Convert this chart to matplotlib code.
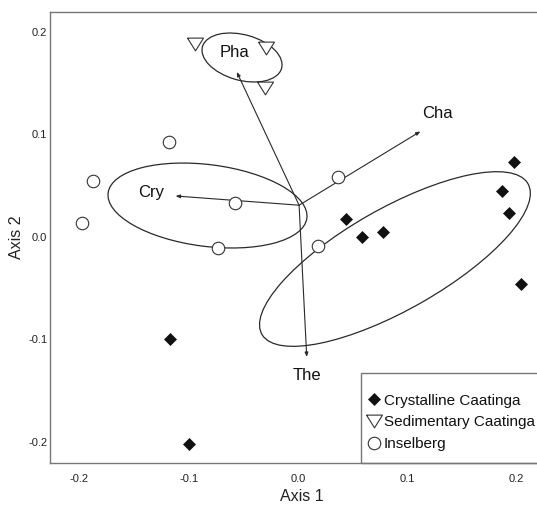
import matplotlib
matplotlib.use('Agg')
from matplotlib import pyplot as plt
from matplotlib.patches import Ellipse, Rectangle
from matplotlib.lines import Line2D

# site scores per habitat
cry_x=[-0.117,-0.100,0.044,0.059,0.078,0.198,0.187,0.193,0.204]
cry_y=[-0.100,-0.202,0.018,0.000,0.005,0.073,0.045,0.023,-0.046]
sed_x=[-0.094,-0.029,-0.030]
sed_y=[0.188,0.184,0.145]
ins_x=[-0.118,-0.188,-0.198,-0.058,-0.073,0.037,0.018]
ins_y=[0.093,0.055,0.014,0.033,-0.011,0.059,-0.009]

# fitted environmental vectors
vec_names=['Cha','Cry','Pha','The']
vec_x=[0.112,-0.112,-0.056,0.008]
vec_y=[0.103,0.040,0.161,-0.117]
vec_x0=0.001
vec_y0=0.031
lab_x=[0.128,-0.134,-0.058,0.008]
lab_y=[0.120,0.043,0.180,-0.135]

# group ellipses (crystalline, cry, pha)
ell_cx=[0.0887,-0.0828,-0.0512]
ell_cy=[-0.0215,0.0307,0.1751]
ell_w=[0.2844,0.1835,0.0754]
ell_h=[0.0978,0.0797,0.0443]
ell_ang=[31.5,-7.9,-17.1]

groups=['Crystalline Caatinga','Sedimentary Caatinga','Inselberg']
xticks=[-0.2,-0.1,0.0,0.1,0.2]
yticks=[-0.2,-0.1,0.0,0.1,0.2]

plt.rcParams['font.family']=['Liberation Sans','DejaVu Sans']
tri=[(-1,0.8),(1,0.8),(0,-0.8),(-1,0.8)]
ink='#2a2a2a'
sty=[dict(marker='D',ms=6.6,mfc='#111111',mec='#111111',mew=0.5),
     dict(marker=tri,ms=11.5,mfc='white',mec='#333333',mew=0.8),
     dict(marker='o',ms=9.0,mfc='white',mec='#333333',mew=0.8)]

fig=plt.figure(figsize=(5.37,5.07),dpi=100)
ax=fig.add_axes((50/537,44/507,495/537,451/507))
ax.set_xlim(-0.2269,0.226)
ax.set_ylim(-0.2205,0.2195)

for cx,cy,w,h,a in zip(ell_cx,ell_cy,ell_w,ell_h,ell_ang):
  ax.add_patch(Ellipse((cx,cy),w,h,angle=a,fill=False,ec=ink,lw=0.9,zorder=2))

for x,y,n,lx,ly in zip(vec_x,vec_y,vec_names,lab_x,lab_y):
  ax.annotate('',xy=(x,y),xytext=(vec_x0,vec_y0),zorder=3,
    arrowprops=dict(arrowstyle='-|>,head_length=0.25,head_width=0.1',color=ink,lw=0.8,shrinkA=0,shrinkB=0))
  ax.text(lx,ly,n,fontsize=12,ha='center',va='center',color='#111111',zorder=5)

for xs,ys,s in zip((cry_x,sed_x,ins_x),(cry_y,sed_y,ins_y),sty):
  ax.plot(xs,ys,ls='none',zorder=4,**s)

ax.set_xticks(xticks)
ax.set_yticks(yticks)
ax.set_xticklabels([f'{t:.1f}' for t in xticks])
ax.set_yticklabels([f'{t:.1f}' for t in yticks])
ax.tick_params(length=0,labelsize=8,labelcolor='#222222')
ax.tick_params(axis='x',pad=8)
ax.tick_params(axis='y',pad=2)
for sp in ax.spines.values():
  sp.set_color('#777777')
  sp.set_linewidth(1.0)
ax.set_xlabel('Axis 1',fontsize=11.5,color='#222222')
ax.set_ylabel('Axis 2',fontsize=11.5,color='#222222')
ax.xaxis.set_label_coords(0.509,-0.058)
ax.yaxis.set_label_coords(-0.053,0.501)

# legend box
bx=(361-50)/495
ax.add_patch(Rectangle((bx,0),1.2,(463-373)/451,transform=ax.transAxes,fill=False,
  ec='#777777',lw=1.0,zorder=6,clip_on=False))
handles=[Line2D([],[],ls='none',**s) for s in sty]
leg=ax.legend(handles,groups,loc='lower left',bbox_to_anchor=(bx+0.004,0.02),borderaxespad=0,
  borderpad=0.2,frameon=False,fontsize=11,handlelength=1.0,handletextpad=0.15,labelspacing=0.5)
for t in leg.get_texts():
  t.set_color('#111111')

fig.savefig('out.png',dpi=100)
